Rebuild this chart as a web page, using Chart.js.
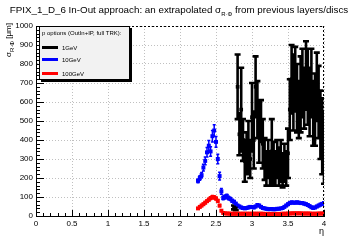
<!DOCTYPE html>
<html>
<head>
<meta charset="utf-8">
<script src="https://cdn.jsdelivr.net/npm/chart.js@4"></script>
<style>
  html, body { margin: 0; padding: 0; background: #fff; }
</style>
</head>
<body>
<canvas id="sigmaChart" width="360" height="240"></canvas>
<script>
// eta bin centres shared by the 10GeV and 100GeV curves
const etaBins = [
  2.250, 2.275, 2.300, 2.325, 2.350, 2.375, 2.400, 2.425, 2.450, 2.475, 2.500,
  2.525, 2.550, 2.575, 2.600, 2.625, 2.650, 2.675, 2.700, 2.725, 2.750,
  2.775, 2.800, 2.825, 2.850, 2.875, 2.900, 2.925, 2.950, 2.975, 3.000,
  3.025, 3.050, 3.075, 3.100, 3.125, 3.150, 3.175, 3.200, 3.225, 3.250,
  3.275, 3.300, 3.325, 3.350, 3.375, 3.400, 3.425, 3.450, 3.475, 3.500,
  3.525, 3.550, 3.575, 3.600, 3.625, 3.650, 3.675, 3.700, 3.725, 3.750,
  3.775, 3.800, 3.825, 3.850, 3.875, 3.900, 3.925, 3.950, 3.975, 4.000
];
const sigma10GeV = [
  185, 200, 215, 255, 290, 335, 370, 340, 420, 450, 390,
  300, 210, 130, 95, 100, 105, 95, 90, 80, 75,
  65, 55, 50, 45, 42, 40, 42, 45, 48, 47,
  45, 50, 58, 55, 48, 42, 40, 38, 36, 36,
  37, 35, 36, 38, 38, 40, 42, 48, 55, 62,
  68, 72, 70, 70, 72, 70, 68, 68, 65, 62,
  58, 52, 46, 42, 45, 50, 55, 60, 64, 68
];
const sigma10GeVErr = [
  10, 12, 14, 18, 20, 25, 28, 25, 30, 30, 28,
  25, 20, 15, 10, 10, 10, 9, 8, 8, 7,
  6, 6, 5, 5, 5, 5, 5, 5, 5, 5,
  5, 5, 6, 6, 5, 5, 5, 5, 4, 4,
  4, 4, 4, 4, 4, 4, 5, 5, 5, 6,
  6, 6, 6, 6, 6, 6, 6, 6, 6, 6,
  5, 5, 5, 5, 5, 5, 5, 6, 6, 6
];
const sigma100GeV = [
  40, 48, 55, 62, 70, 78, 86, 94, 100, 98, 92,
  80, 55, 28, 16, 14, 13, 13, 12, 12, 12,
  12, 12, 12, 12, 12, 12, 12, 12, 12, 12,
  12, 12, 12, 12, 12, 12, 11, 11, 11, 11,
  11, 11, 11, 11, 11, 11, 12, 12, 12, 13,
  13, 14, 14, 14, 14, 14, 14, 13, 13, 13,
  13, 13, 12, 12, 12, 12, 13, 13, 13, 13
];
const sigma100GeVErr = [
  4, 4, 5, 5, 6, 6, 7, 7, 8, 8, 8,
  7, 6, 4, 2, 2, 2, 2, 2, 2, 2,
  2, 2, 2, 2, 2, 2, 2, 2, 2, 2,
  2, 2, 2, 2, 2, 2, 2, 2, 2, 2,
  2, 2, 2, 2, 2, 2, 2, 2, 2, 2,
  2, 2, 2, 2, 2, 2, 2, 2, 2, 2,
  2, 2, 2, 2, 2, 2, 2, 2, 2, 2
];

// eta bin centres of the 1GeV curve
const etaBins1GeV = [
  2.750, 2.775, 2.800, 2.825, 2.850, 2.875, 2.900, 2.925, 2.950, 2.975, 3.000,
  3.025, 3.050, 3.075, 3.100, 3.125, 3.150, 3.175, 3.200, 3.225, 3.250,
  3.275, 3.300, 3.325, 3.350, 3.375, 3.400, 3.425, 3.450, 3.475, 3.500,
  3.525, 3.550, 3.575, 3.600, 3.625, 3.650, 3.675, 3.700, 3.725, 3.750,
  3.775, 3.800, 3.825, 3.850, 3.875, 3.900, 3.925, 3.950, 3.975, 4.000
];
const sigma1GeV = [
  45, 40, 680, 430, 560, 400, 290, 330, 360, 300, 520,
  400, 680, 560, 440, 500, 380, 300, 250, 300, 250,
  340, 280, 250, 300, 260, 290, 240, 280, 250, 330,
  560, 720, 650, 720, 620, 560, 640, 700, 620, 740,
  680, 600, 700, 540, 560, 680, 600, 480, 420, 360
];
const sigma1GeVErr = [
  10, 10, 170, 110, 220, 110, 110, 110, 140, 100, 180,
  150, 160, 150, 160, 110, 130, 110, 90, 100, 90,
  170, 110, 90, 100, 100, 110, 90, 100, 90, 130,
  160, 180, 200, 170, 180, 150, 200, 180, 160, 180,
  200, 180, 180, 170, 190, 180, 190, 180, 200, 190
];

const seriesNames = ['1GeV', '10GeV', '100GeV'];
const seriesColors = ['#000000', '#0000ff', '#ff0000'];
const legendHeader = 'p options (OutIn+IP, full TRK):';

const FONT = '"Liberation Sans", Arial, sans-serif';

function points(xs, ys) {
  return xs.map((x, i) => ({ x: x, y: ys[i] }));
}

// vertical error bars drawn through the chart scales
const errorBars = {
  id: 'errorBars',
  beforeDatasetsDraw(chart) {
    const ctx = chart.ctx;
    const xs = chart.scales.x, ys = chart.scales.y;
    const a = chart.chartArea;
    ctx.save();
    ctx.beginPath();
    ctx.rect(a.left, a.top, a.right - a.left, a.bottom - a.top);
    ctx.clip();
    chart.data.datasets.forEach(ds => {
      const errs = ds.errors;
      ctx.strokeStyle = ds.backgroundColor;
      ctx.lineWidth = ds.errWidth;
      ctx.beginPath();
      ds.data.forEach((p, i) => {
        const x = xs.getPixelForValue(p.x);
        const y1 = ys.getPixelForValue(p.y - errs[i]);
        const y2 = ys.getPixelForValue(p.y + errs[i]);
        ctx.moveTo(x, y1); ctx.lineTo(x, y2);
        ctx.moveTo(x - ds.capHalf, y1); ctx.lineTo(x + ds.capHalf, y1);
        ctx.moveTo(x - ds.capHalf, y2); ctx.lineTo(x + ds.capHalf, y2);
      });
      ctx.stroke();
    });
    ctx.restore();
  }
};

function drawSubText(ctx, parts, x, y) {
  let cx = x;
  parts.forEach(([t, sub]) => {
    ctx.font = (sub ? '6px ' : ctx._baseSize + 'px ') + FONT;
    ctx.fillText(t, cx, sub ? y + 3 : y);
    cx += ctx.measureText(t).width;
  });
  return cx - x;
}
function measureSubText(ctx, parts) {
  let w = 0;
  parts.forEach(([t, sub]) => {
    ctx.font = (sub ? '6px ' : ctx._baseSize + 'px ') + FONT;
    w += ctx.measureText(t).width;
  });
  return w;
}

const decorations = {
  id: 'decorations',
  afterDraw(chart) {
    const ctx = chart.ctx;
    const a = chart.chartArea;
    const xs = chart.scales.x, ys = chart.scales.y;
    ctx.save();

    // ROOT style inner tick marks
    ctx.strokeStyle = '#000';
    ctx.lineWidth = 1;
    ctx.beginPath();
    for (let v = 0; v <= 1000; v += 20) {
      const y = Math.round(ys.getPixelForValue(v)) + 0.5;
      const len = v % 100 === 0 ? 8 : 4;
      ctx.moveTo(a.left, y); ctx.lineTo(a.left + len, y);
    }
    for (let k = 0; k <= 40; k++) {
      const x = Math.round(xs.getPixelForValue(k / 10)) + 0.5;
      const len = k % 5 === 0 ? 6 : 3;
      ctx.moveTo(x, a.bottom); ctx.lineTo(x, a.bottom - len);
    }
    ctx.stroke();

    // dashed top and right frame
    ctx.setLineDash([2, 2]);
    ctx.beginPath();
    ctx.moveTo(a.left, a.top + 0.5); ctx.lineTo(a.right, a.top + 0.5);
    ctx.moveTo(a.right - 0.5, a.top); ctx.lineTo(a.right - 0.5, a.bottom);
    ctx.stroke();
    ctx.setLineDash([]);

    // title
    ctx.fillStyle = '#000';
    ctx.textBaseline = 'alphabetic';
    ctx.textAlign = 'left';
    ctx._baseSize = 9.8;
    const titleParts = [['FPIX_1_D_6 In-Out approach: an extrapolated σ', false], ['R·Φ', true], [' from previous layers/discs', false]];
    const tw = measureSubText(ctx, titleParts);
    drawSubText(ctx, titleParts, 179 - tw / 2, 13);

    // y axis title, rotated, aligned to the top end
    ctx._baseSize = 8;
    const yParts = [['σ', false], ['R·Φ', true], [' [μm]', false]];
    const yw = measureSubText(ctx, yParts);
    ctx.save();
    ctx.translate(11, 23 + yw);
    ctx.rotate(-Math.PI / 2);
    drawSubText(ctx, yParts, 0, 0);
    ctx.restore();

    // x axis title
    ctx.font = '9px ' + FONT;
    ctx.textAlign = 'right';
    ctx.fillText('η', 324, 234);

    // legend box
    const lx = 39, ly = 26, lw = 91, lh = 54;
    ctx.fillStyle = '#000';
    ctx.fillRect(lx + 2, ly + 2, lw, lh);
    ctx.fillStyle = '#f2f2f2';
    ctx.fillRect(lx, ly, lw, lh);
    ctx.strokeStyle = '#000';
    ctx.lineWidth = 1;
    ctx.strokeRect(lx + 0.5, ly + 0.5, lw - 1, lh - 1);
    ctx.fillStyle = '#000';
    ctx.textAlign = 'left';
    ctx.font = '6px ' + FONT;
    ctx.fillText(legendHeader, lx + 3, ly + 9);
    const rows = [47.5, 59.5, 73.5];
    seriesNames.forEach((name, i) => {
      ctx.strokeStyle = seriesColors[i];
      ctx.lineWidth = 3;
      ctx.beginPath();
      ctx.moveTo(lx + 3, rows[i]); ctx.lineTo(lx + 19, rows[i]);
      ctx.stroke();
      ctx.fillStyle = '#000';
      ctx.fillText(name, lx + 23, rows[i] + 2);
    });

    ctx.restore();
  }
};

const ctx = document.getElementById('sigmaChart').getContext('2d');
const chart = new Chart(ctx, {
  type: 'scatter',
  data: {
    datasets: [{
      label: seriesNames[0],
      data: points(etaBins1GeV, sigma1GeV),
      errors: sigma1GeVErr,
      backgroundColor: seriesColors[0],
      errWidth: 2.6, capHalf: 3,
      pointRadius: 2.6
    }, {
      label: seriesNames[1],
      data: points(etaBins, sigma10GeV),
      errors: sigma10GeVErr,
      backgroundColor: seriesColors[1],
      errWidth: 1.5, capHalf: 1.5,
      pointRadius: 2.8
    }, {
      label: seriesNames[2],
      data: points(etaBins, sigma100GeV),
      errors: sigma100GeVErr,
      backgroundColor: seriesColors[2],
      errWidth: 1.5, capHalf: 1.5,
      pointRadius: 2.8
    }]
  },
  options: {
    responsive: false,
    animation: false,
    layout: { padding: { top: 26, right: 36, left: 0, bottom: 0 } },
    elements: { point: { pointStyle: 'rect', borderWidth: 0, hoverRadius: 0 } },
    plugins: { legend: { display: false }, tooltip: { enabled: false } },
    scales: {
      x: {
        type: 'linear', min: 0, max: 4,
        afterFit: s => { s.height = 24; },
        ticks: { stepSize: 0.5, padding: 3, color: '#000', maxRotation: 0,
                 font: { family: FONT, size: 8 },
                 callback: v => String(v) },
        grid: { color: '#c0c0c0', drawTicks: false, lineWidth: 1 },
        border: { color: '#000', width: 1, dash: [1, 2] }
      },
      y: {
        type: 'linear', min: 0, max: 1000,
        afterFit: s => { s.width = 36; },
        ticks: { stepSize: 100, padding: 3, color: '#000',
                 font: { family: FONT, size: 8 },
                 callback: v => String(v) },
        grid: { color: '#c0c0c0', drawTicks: false, lineWidth: 1 },
        border: { color: '#000', width: 1, dash: [1, 2] }
      }
    }
  },
  plugins: [errorBars, decorations]
});
</script>
</body>
</html>
